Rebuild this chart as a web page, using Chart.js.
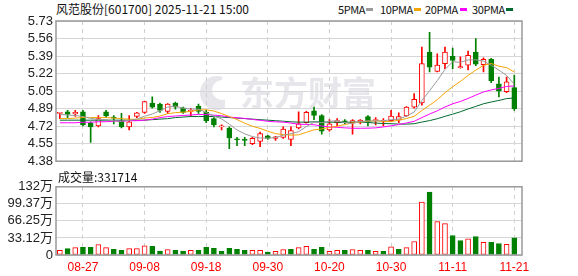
<!DOCTYPE html>
<html>
<head>
<meta charset="utf-8">
<script src="https://cdn.jsdelivr.net/npm/chart.js@4/dist/chart.umd.min.js"></script>
<style>
  body { margin: 0; background: #fff; }
  #wrap { position: relative; width: 578px; height: 276px; overflow: hidden; }
  .txt { position: absolute; font: 12px "Noto Sans CJK SC", sans-serif; color: #111; white-space: nowrap; line-height: 16px; }
  .lg { position: absolute; top: 1px; font: 11px "Noto Sans CJK SC", sans-serif; letter-spacing: -0.4px; color: #111; line-height: 16px; white-space: nowrap; }
  .sw { position: absolute; top: 8px; width: 7px; height: 3px; }
  canvas { position: absolute; left: 0; }
</style>
</head>
<body>
<div id="wrap">
  <div class="txt" id="title" style="left:56px;top:1px;">风范股份[601700] 2025-11-21 15:00</div>
  <div id="legend"></div>
  <canvas id="kChart" width="578" height="172" style="top:0"></canvas>
  <div class="txt" id="volTitle" style="left:58px;top:169px;"></div>
  <canvas id="volChart" width="578" height="100" style="top:176px"></canvas>
</div>
<script>
// trading days
const dates = ['08-22','08-25','08-26','08-27','08-28','08-29',
  '09-01','09-02','09-03','09-04','09-05','09-08','09-09','09-10','09-11','09-12',
  '09-15','09-16','09-17','09-18','09-19','09-22','09-23','09-24','09-25','09-26','09-29','09-30',
  '10-09','10-10','10-13','10-14','10-15','10-16','10-17','10-20','10-21','10-22','10-23','10-24',
  '10-27','10-28','10-29','10-30','10-31',
  '11-03','11-04','11-05','11-06','11-07','11-10','11-11','11-12','11-13','11-14',
  '11-17','11-18','11-19','11-20','11-21'];

const openP  = [4.84,4.855,4.835,4.855,4.745,4.72,4.855,4.80,4.77,4.71,4.81,4.85,4.94,4.93,4.86,4.94,4.895,4.86,4.91,4.85,
  4.79,4.71,4.70,4.59,4.59,4.55,4.57,4.625,4.60,4.61,4.59,4.70,4.75,4.865,4.82,4.68,4.75,4.765,4.75,4.76,
  4.81,4.77,4.765,4.77,4.775,4.815,4.90,4.94,5.43,5.245,5.32,5.39,5.28,5.305,5.43,5.31,5.36,5.125,5.05,5.09];
const highP  = [4.845,4.87,4.87,4.87,4.76,4.82,4.87,4.82,4.84,4.82,4.85,4.96,5.00,4.94,4.935,4.95,4.90,4.89,4.93,4.87,
  4.80,4.73,4.71,4.61,4.61,4.61,4.66,4.63,4.62,4.71,4.71,4.855,4.86,4.90,4.83,4.78,4.79,4.78,4.78,4.78,
  4.82,4.80,4.79,4.87,4.845,4.905,5.03,5.48,5.62,5.415,5.48,5.47,5.385,5.44,5.56,5.375,5.37,5.19,5.19,5.21];
const lowP   = [4.79,4.80,4.81,4.72,4.56,4.71,4.80,4.74,4.70,4.68,4.80,4.84,4.89,4.85,4.84,4.88,4.84,4.81,4.84,4.75,
  4.71,4.68,4.50,4.53,4.53,4.54,4.52,4.59,4.58,4.60,4.53,4.69,4.745,4.78,4.64,4.67,4.72,4.74,4.64,4.74,
  4.72,4.73,4.72,4.76,4.75,4.81,4.89,4.92,5.24,5.24,5.27,5.27,5.275,5.26,5.30,5.24,5.135,5.00,5.04,4.87];
const closeP = [4.845,4.83,4.85,4.73,4.71,4.79,4.815,4.795,4.71,4.76,4.845,4.955,4.90,4.87,4.93,4.90,4.85,4.865,4.86,4.77,
  4.73,4.715,4.605,4.585,4.58,4.60,4.645,4.60,4.615,4.69,4.675,4.74,4.85,4.82,4.67,4.74,4.77,4.76,4.77,4.775,
  4.76,4.775,4.77,4.815,4.81,4.90,4.975,5.32,5.285,5.305,5.43,5.35,5.29,5.40,5.315,5.36,5.155,5.055,5.145,4.885];

// volume, unit 万
const volume = [9,12.3,14.2,14.8,14.8,20,14.2,11,9,12.3,12.3,18,16.7,7.7,10.4,9,7.7,9,9,14.8,
  12.9,7.7,12.9,11,9,9,9,5.8,7,10.4,11,14.2,16.7,11,14.8,7,9,9,10.4,9,
  9,7,7,16,11,14.2,26.3,103,122,64.7,60.9,37.8,28.2,31.4,35.9,24.4,24.4,22.4,20.5,33.17];

const ma5  = [4.83,4.825,4.82,4.81,4.793,4.782,4.779,4.768,4.764,4.774,4.785,4.813,4.834,4.866,4.90,4.911,4.89,4.883,4.881,4.849,
  4.815,4.788,4.736,4.681,4.643,4.617,4.603,4.602,4.608,4.63,4.645,4.664,4.714,4.755,4.751,4.764,4.77,4.752,4.742,4.763,
  4.767,4.768,4.770,4.779,4.786,4.814,4.854,4.964,5.058,5.157,5.263,5.338,5.332,5.355,5.357,5.343,5.304,5.257,5.206,5.12];
const ma10 = [4.79,4.79,4.795,4.80,4.80,4.80,4.80,4.795,4.79,4.784,4.784,4.796,4.801,4.815,4.837,4.848,4.852,4.859,4.874,4.875,
  4.863,4.839,4.81,4.781,4.746,4.716,4.696,4.669,4.645,4.637,4.631,4.634,4.658,4.682,4.691,4.705,4.717,4.733,4.749,4.757,
  4.766,4.769,4.762,4.761,4.775,4.791,4.812,4.868,4.919,4.972,5.039,5.097,5.148,5.207,5.257,5.303,5.321,5.295,5.281,5.239];
const ma20 = [4.75,4.75,4.75,4.755,4.755,4.76,4.76,4.765,4.765,4.77,4.77,4.775,4.785,4.80,4.81,4.815,4.82,4.825,4.83,4.829,
  4.823,4.818,4.805,4.798,4.792,4.782,4.774,4.764,4.759,4.756,4.747,4.736,4.734,4.731,4.718,4.71,4.706,4.701,4.697,4.697,
  4.698,4.701,4.71,4.721,4.733,4.748,4.764,4.80,4.834,4.865,4.902,4.933,4.955,4.984,5.016,5.047,5.066,5.081,5.10,5.105];
const ma30 = [4.775,4.775,4.775,4.775,4.775,4.775,4.775,4.775,4.775,4.775,4.775,4.775,4.78,4.785,4.79,4.80,4.805,4.81,4.81,4.81,
  4.81,4.805,4.80,4.795,4.79,4.785,4.78,4.775,4.77,4.765,4.759,4.756,4.756,4.759,4.758,4.756,4.755,4.754,4.756,4.756,
  4.753,4.747,4.743,4.741,4.737,4.737,4.741,4.757,4.771,4.789,4.812,4.833,4.856,4.883,4.908,4.933,4.95,4.965,4.983,4.989];

const priceTicks = [4.38,4.54875,4.7175,4.88625,5.055,5.22375,5.3925,5.56125,5.73];
const priceTickLabels = ['4.38','4.55','4.72','4.89','5.05','5.22','5.39','5.56','5.73'];
const volTicks = [0,33.12,66.25,99.37,132.49];
const volTickLabels = ['0','33.12万','66.25万','99.37万','132万'];
const dateTickIdx = [3,11,19,27,35,43,51,59];

const maNames = ['5PMA','10PMA','20PMA','30PMA'];
const maColors = ['#9a9a9a','#f5a400','#ff00ff','#006b30'];
const lastVolume = '331714';

const UP = '#ff0000', DOWN = '#008000';
const AXIS_FONT = { family: 'Arial, "Liberation Sans", "Noto Sans CJK SC"', size: 13 };

// legend: label then colour swatch, placed like the original header
const legendX = [338, 380, 425, 472];
const swatchX = [366, 414, 460, 506];
const legend = document.getElementById('legend');
maNames.forEach((n, i) => {
    legend.insertAdjacentHTML('beforeend',
        `<span class="lg" style="left:${legendX[i]}px">${n}</span>` +
        `<span class="sw" style="left:${swatchX[i]}px;background:${maColors[i]}"></span>`);
});
document.getElementById('volTitle').innerText = '成交量:' + lastVolume;

const isUp = closeP.map((c, i) => c >= openP[i]);
const volUp = closeP.map((c, i) => i === 0 ? isUp[0] : c >= closeP[i - 1]);

// plot frame
const framePlugin = {
    id: 'frame',
    afterDatasetsDraw(chart) {
        const { ctx, chartArea: a } = chart;
        ctx.save();
        ctx.strokeStyle = '#999';
        ctx.lineWidth = 1.5;
        ctx.strokeRect(a.left, a.top, a.right - a.left, a.bottom - a.top);
        ctx.restore();
    }
};

// faint brand watermark behind the grid
const watermarkPlugin = {
    id: 'watermark',
    beforeDraw(chart) {
        const ctx = chart.ctx;
        ctx.save();
        ctx.fillStyle = 'rgba(200,200,210,0.45)';
        ctx.beginPath();
        ctx.arc(217, 93, 17, Math.PI * 0.35, Math.PI * 1.6);
        ctx.arc(222, 90, 10, Math.PI * 1.5, Math.PI * 0.4, true);
        ctx.closePath();
        ctx.fill();
        ctx.font = 'bold 34px "Noto Sans CJK SC"';
        ctx.textBaseline = 'middle';
        ctx.fillText('东方财富', 240, 93);
        ctx.restore();
    }
};

function xScale(showLabels, height) {
    return {
        type: 'linear', min: -0.5, max: 60, offset: false,
        afterBuildTicks: s => { s.ticks = dateTickIdx.map(v => ({ value: v })); },
        afterFit: s => { s.height = height; },
        grid: { color: '#cfcfcf', drawTicks: false, offset: false },
        border: { display: false, dash: [4, 4] },
        ticks: {
            display: showLabels, autoSkip: false, maxRotation: 0, padding: 5,
            color: '#ff0000', font: { family: 'Arial, "Liberation Sans"', size: 12 },
            callback: v => dates[v]
        }
    };
}

function yScale(min, max, ticks, labels) {
    return {
        min, max,
        afterBuildTicks: s => { s.ticks = ticks.map(v => ({ value: v })); },
        afterFit: s => { s.width = 56; },
        grid: { color: '#d6d6d6', drawTicks: false },
        border: { display: false },
        ticks: { autoSkip: false, padding: 3, color: '#222', font: AXIS_FONT, callback: (v, i) => labels[i] }
    };
}

const pts = arr => arr.map((v, i) => ({ x: i, y: v }));

new Chart(document.getElementById('kChart'), {
    type: 'bar',
    data: {
        datasets: [
            ...maNames.map((n, k) => ({
                type: 'line', label: n, data: pts([ma5, ma10, ma20, ma30][k]),
                borderColor: maColors[k], borderWidth: 1, pointRadius: 0, tension: 0, order: 1
            })),
            {
                label: 'body',
                data: openP.map((o, i) => ({ x: i, y: [o, closeP[i]] })),
                backgroundColor: isUp.map(u => u ? '#ffffff' : DOWN),
                borderColor: isUp.map(u => u ? UP : DOWN),
                borderWidth: 1, borderSkipped: false, barThickness: 5, minBarLength: 1,
                grouped: false, order: 2
            },
            {
                label: 'wick',
                data: lowP.map((l, i) => ({ x: i, y: [l, highP[i]] })),
                backgroundColor: isUp.map(u => u ? UP : DOWN),
                barThickness: 1, grouped: false, order: 3
            }
        ]
    },
    options: {
        responsive: false, animation: false, devicePixelRatio: 1,
        layout: { padding: { top: 21, right: 56, left: 0, bottom: 0 } },
        plugins: { legend: { display: false }, tooltip: { enabled: false } },
        scales: {
            x: xScale(false, 6),
            y: yScale(4.38, 5.73, priceTicks, priceTickLabels)
        }
    },
    plugins: [watermarkPlugin, framePlugin]
});

new Chart(document.getElementById('volChart'), {
    type: 'bar',
    data: {
        datasets: [{
            label: 'volume',
            data: volume.map((v, i) => ({ x: i, y: v })),
            backgroundColor: volUp.map(u => u ? '#ffffff' : DOWN),
            borderColor: volUp.map(u => u ? UP : DOWN),
            borderWidth: 1, borderSkipped: false, barThickness: 5
        }]
    },
    options: {
        responsive: false, animation: false, devicePixelRatio: 1,
        layout: { padding: { top: 10, right: 56, left: 0, bottom: 0 } },
        plugins: { legend: { display: false }, tooltip: { enabled: false } },
        scales: {
            x: xScale(true, 21),
            y: yScale(0, 132.49, volTicks, volTickLabels)
        }
    },
    plugins: [framePlugin]
});
</script>
</body>
</html>
